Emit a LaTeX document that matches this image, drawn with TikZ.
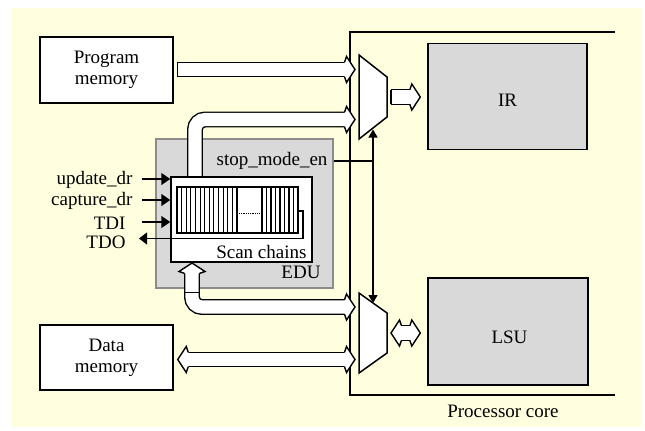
\documentclass[tikz,border=0pt]{standalone}
\usepackage{fontspec}
\setmainfont{Liberation Serif}
\usetikzlibrary{arrows.meta,calc}
\definecolor{bgyellow}{RGB}{255,255,224}
\definecolor{boxgray}{RGB}{217,217,217}
\newcommand{\hhead}[2]{\begin{scope}[shift={(#1)},rotate=#2]\filldraw[fill=white,draw=black,line width=1.4bp,line join=miter] (-10.5,-7.25) -- (-8.5,-13) -- (0,0) -- (-8.5,13) -- (-10.5,7.25);\end{scope}}
\newcommand{\htail}[2]{\begin{scope}[shift={(#1)},rotate=#2]\draw[line width=1.4bp,line cap=square] (0,-7.25) -- (0,7.25);\end{scope}}
\tikzset{
  box/.style={draw, line width=1.5bp, fill=white, inner sep=0pt},
  graybox/.style={draw, line width=1.4bp, fill=boxgray, inner sep=0pt},
  pipeO/.style={draw=black, line width=15.9bp, line cap=butt, rounded corners=10bp},
  pipeI/.style={draw=white, line width=13.1bp, line cap=butt, rounded corners=10bp},
  sig/.style={line width=1.5bp, -{Triangle[length=9bp,width=12bp]}},
  thinline/.style={line width=1.1bp},
  muxshape/.style={draw, line width=1.5bp, fill=white, line join=miter}
}
\begin{document}
\begin{tikzpicture}[x=1bp,y=-1bp,font=\fontsize{19bp}{21bp}\selectfont]
\useasboundingbox (0,0) rectangle (645,430);
\fill[bgyellow] (12,8) rectangle (641,427);

% processor core frame
\draw[line width=2bp] (615,32) -- (350,32) -- (350,395) -- (615,395);
\node[anchor=base] (pclabel) at (503,417) {Processor core};

% IR and LSU
\node[graybox, minimum width=159bp, minimum height=106bp] (ir) at (507.5,96.3) {};
\node[anchor=base] (irlabel) at (507.5,106) {IR};
\node[graybox, minimum width=160bp, minimum height=107bp] (lsu) at (508,331.5) {};
\node[anchor=base] (lsulabel) at (509.5,343) {LSU};

% multiplexers
\coordinate (m1a) at (359,55); \coordinate (m1b) at (387,77);
\coordinate (m1c) at (387,117); \coordinate (m1d) at (359,139);
\draw[muxshape] (m1a) -- (m1b) -- (m1c) -- (m1d) -- cycle;
\coordinate (m2a) at (359,293); \coordinate (m2b) at (387,313);
\coordinate (m2c) at (387,353); \coordinate (m2d) at (359,373);
\draw[muxshape] (m2a) -- (m2b) -- (m2c) -- (m2d) -- cycle;

% memories
\node[box, minimum width=133bp, minimum height=66bp, align=center] (pm) at (106.5,70) {Program\\memory};
\node[box, minimum width=133bp, minimum height=65bp, align=center] (dm) at (106.5,357.5) {Data\\memory};

% EDU
\node[draw=black!45, line width=1.1bp, fill=boxgray, minimum width=177bp, minimum height=149bp, inner sep=0pt] (edu) at (244.5,213.5) {};

% named ends of the wide connectors
\coordinate (pa1) at ([xshift=4bp]pm.east |- 0,69.5);
\coordinate (pa2) at ($(m1a |- pa1)+(-4,0)$);
\coordinate (up1) at (195,177);
\coordinate (up2) at (355,119.5);
\coordinate (lp0) at (192,263);
\coordinate (lp2) at (355,307);
\coordinate (da1) at ([xshift=4bp]dm.east |- 0,359.5);
\coordinate (da2) at ($(m2a |- da1)+(-4,0)$);
\coordinate (ia1) at (391,97);
\coordinate (ia2) at ($(ir.west |- ia1)+(-7,0)$);
\coordinate (la1) at (391,333);
\coordinate (la2) at ($(lsu.west |- la1)+(-7,0)$);

% program memory -> mux
\draw[pipeO] (pa1) -- ($(pa2)+(-10,0)$);
\draw[pipeI] (pa1) -- ($(pa2)+(-10,0)$);
\htail{pa1}{0}\hhead{pa2}{0}

% scan chains -> mux (upper pipe)
\draw[pipeO] (up1) -- (up1 |- up2) -- ($(up2)+(-10,0)$);
\draw[pipeI] (up1) -- (up1 |- up2) -- ($(up2)+(-10,0)$);
\hhead{up2}{0}

% mux <-> scan chains (lower pipe)
\draw[pipeO] ($(lp0)+(0,10)$) -- (lp0 |- lp2) -- ($(lp2)+(-10,0)$);
\draw[pipeI] ($(lp0)+(0,10)$) -- (lp0 |- lp2) -- ($(lp2)+(-10,0)$);
\hhead{lp0}{90}\hhead{lp2}{0}
\draw[line width=0.8bp] (184.8,292) -- (199.2,292);

% data memory <-> mux
\draw[pipeO] ($(da1)+(10,0)$) -- ($(da2)+(-10,0)$);
\draw[pipeI] ($(da1)+(10,0)$) -- ($(da2)+(-10,0)$);
\hhead{da1}{180}\hhead{da2}{0}

% mux -> IR
\draw[pipeO] (ia1) -- ($(ia2)+(-10,0)$);
\draw[pipeI] (ia1) -- ($(ia2)+(-10,0)$);
\htail{ia1}{0}\hhead{ia2}{0}

% mux <-> LSU
\draw[pipeO] ($(la1)+(10,0)$) -- ($(la2)+(-10,0)$);
\draw[pipeI] ($(la1)+(10,0)$) -- ($(la2)+(-10,0)$);
\hhead{la1}{180}\hhead{la2}{0}

% scan chains box
\node[box, minimum width=141bp, minimum height=85bp] (scan) at (241.5,219.5) {};
\node[anchor=base east] (scanlabel) at (310,258) {Scan chains};
\node[anchor=base east] (edulabel) at (324,278) {EDU};

% register strip
\node[draw, line width=1.3bp, fill=white, minimum width=121bp, minimum height=46bp, inner sep=0pt] (strip) at (237.5,210) {};
\foreach \i in {1,...,13} {\draw[line width=1.1bp] ({177+\i*60/13},187) -- ({177+\i*60/13},233);}
\foreach \i in {0,...,7} {\draw[line width=1.1bp] ({262+\i*4.5},187) -- ({262+\i*4.5},233);}
\draw[densely dotted, line width=0.8bp] (239,213) -- (259,213);

% TDO loop
\coordinate (tdoend) at (139,238.5);
\draw[thinline, -{Triangle[length=8bp,width=12bp]}] (strip.east |- 0,211) -- (303,211) -- (303,238.5) -- (tdoend);

% input signals
\coordinate (ud) at (142,179); \coordinate (cd) at (142,200); \coordinate (ti) at (142,222);
\draw[sig] (ud) -- (ud -| scan.west);
\draw[sig] (cd) -- (cd -| scan.west);
\draw[sig] (ti) -- (ti -| scan.west);
\node[anchor=base east] (udlabel) at (136,184) {update\_dr};
\node[anchor=base east] (cdlabel) at (136,205) {capture\_dr};
\node[anchor=base east] (tilabel) at (129,229) {TDI};
\node[anchor=base east] (tolabel) at (129,248) {TDO};

% stop_mode_en
\node[anchor=base east] (smlabel) at (331,165) {stop\_mode\_en};
\coordinate (smj) at (373,161);
\draw[thinline] (edu.east |- smj) -- (smj);
\coordinate (vt) at (373,129.5);
\coordinate (vb) at (373,303);
\draw[line width=1.3bp, {Triangle[length=8bp,width=9bp]}-{Triangle[length=8bp,width=9bp]}] (vt) -- (vb);
\end{tikzpicture}
\end{document}
